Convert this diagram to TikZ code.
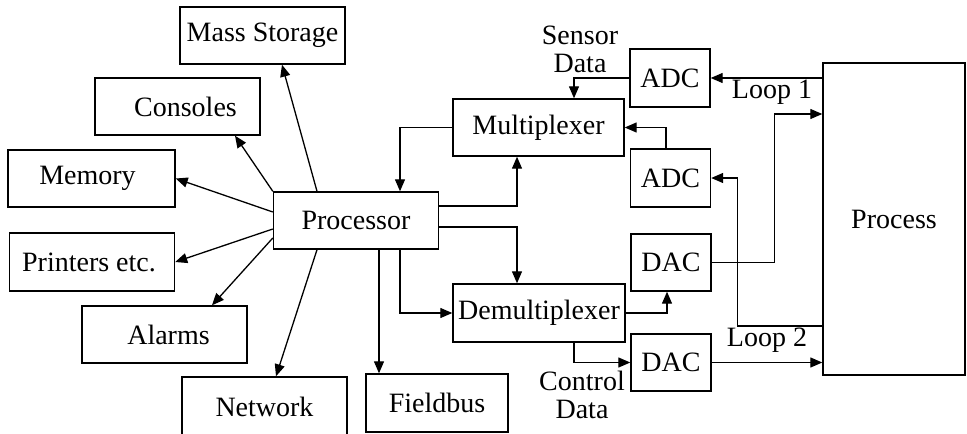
\documentclass[tikz,border=0pt]{standalone}
\usepackage{fontspec}
\setmainfont{Liberation Serif}
\usetikzlibrary{arrows.meta,calc}
\tikzset{
  blk/.style={draw=black,fill=white,line width=0.7pt,inner sep=0pt,minimum height=28.5pt,
    font=\fontsize{14}{14}\selectfont},
  wide/.style={blk,minimum width=82.5pt},
  cnv/.style={blk,minimum width=40pt},
  lbl/.style={font=\fontsize{14}{14}\selectfont,align=center,inner sep=0pt},
  link/.style={-{Triangle[length=6pt,width=5pt]},line width=0.65pt}
}
\begin{document}
\begin{tikzpicture}[x=0.5pt,y=-0.5pt]
  \useasboundingbox (0,0) rectangle (967,433);
  \clip (0,0) rectangle (967,433);
  % processor and its peripherals
  \node[wide] (proc) at (356,220.5) {Processor};
  \node[wide] (mass) at (262.5,35.5) {Mass Storage};
  \node[wide] (cons) at (177.5,106.5) {\hspace*{8pt}Consoles};
  \node[wide,minimum width=83.5pt] (mem) at (91.5,178.5) {Memory\hspace*{4pt}};
  \node[wide,minimum height=29pt] (prt) at (92,262) {Printers etc.\hspace*{3pt}};
  \node[wide] (alm) at (164.5,334.5) {\hspace*{4pt}Alarms};
  \node[wide,minimum height=30pt] (net) at (264.5,407) {Network};
  \node[blk,minimum width=71pt,minimum height=29pt] (fbus) at (437,403) {Fieldbus};
  % multiplexing and conversion
  \node[blk,minimum width=85.5pt] (mux) at (538.5,127.5) {Multiplexer};
  \node[blk,minimum width=86pt,minimum height=29pt] (dmux) at (539,313) {Demultiplexer};
  \node[cnv,minimum height=29pt] (adc1) at (670,78) {ADC};
  \node[cnv,minimum height=29pt] (adc2) at (670.5,178) {ADC};
  \node[cnv] (dac1) at (671,262.5) {DAC};
  \node[cnv] (dac2) at (671,362.5) {DAC};
  \node[blk,minimum width=71pt,minimum height=156pt] (plant) at (894,219) {Process};
  % labels
  \node[lbl] (sens) at (580,49) {Sensor\\Data};
  \node[lbl] (ctrl) at (582,395) {Control\\Data};
  \node[lbl] (loop1) at (772,92) {Loop 1};
  \node[lbl] (loop2) at (767,340) {Loop 2};
  % radial links
  \draw[link] ($(proc.north)+(-39,0)$) -- ($(mass.south)+(19.5,0)$);
  \draw[link] (proc.north west) -- ($(cons.south)+(57.5,0)$);
  \draw[link] ($(proc.west)+(0,-8.5)$) -- (mem.east);
  \draw[link] ($(proc.west)+(0,8.5)$) -- (prt.east);
  \draw[link] ($(proc.west)+(0,17.5)$) -- ($(alm.north)+(47.5,0)$);
  \draw[link] ($(proc.south)+(-39,0)$) -- ($(net.north)+(11.5,0)$);
  \coordinate (pf) at ($(proc.south)+(23,0)$);
  \draw[link] (pf) -- (pf |- fbus.north);
  % processor <-> multiplexers
  \draw[link] ($(proc.east)+(0,-14.5)$) -| ($(mux.south)+(-21.5,0)$);
  \draw[link] (mux.west) -| ($(proc.north)+(44,0)$);
  \draw[link] ($(proc.east)+(0,6.5)$) -| ($(dmux.north)+(-22,0)$);
  \draw[link] ($(proc.south)+(44,0)$) |- (dmux.west);
  % converters
  \draw[link] (adc1.west) -| ($(mux.north)+(35.5,0)$);
  \draw[link] ($(adc2.north)+(-4.5,0)$) |- (mux.east);
  \draw[link] (dmux.east) -| ($(dac1.south)+(-4,0)$);
  \draw[link] ($(dmux.south)+(35,0)$) |- (dac2.west);
  % loops to process
  \coordinate (l1in) at ($(plant.west)+(0,-105)$);
  \draw[link] (dac1.east) -- ++(63,0) |- (l1in);
  \draw[link] ($(plant.west)+(0,-141)$) -- (adc1.east);
  \draw[link] ($(plant.west)+(0,107)$) -- ++(-85,0) |- (adc2.east);
  \draw[link] (dac2.east) -- (dac2.east -| plant.west);
\end{tikzpicture}
\end{document}
